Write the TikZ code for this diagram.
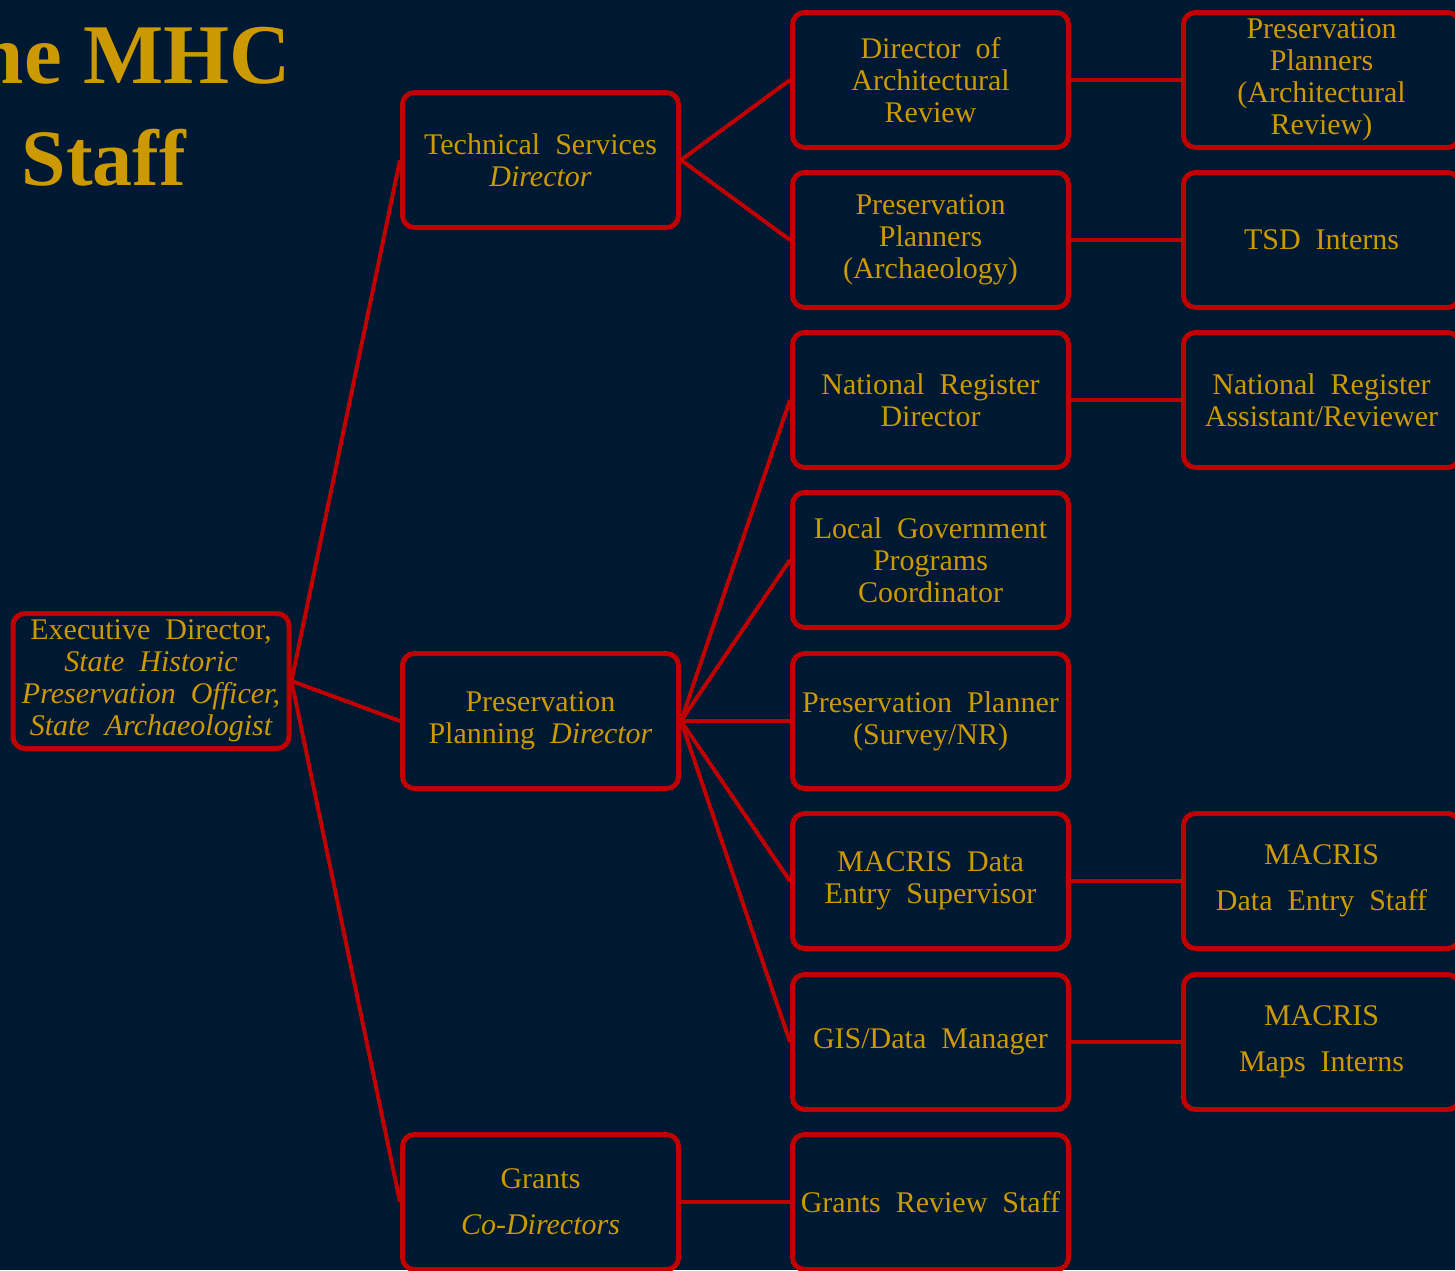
\documentclass[tikz,border=0pt]{standalone}
\usepackage{fontspec}
\setmainfont[WordSpace=2]{Liberation Serif}
\newfontfamily\titlefont{Liberation Serif}
\definecolor{bg}{RGB}{0,25,50}
\definecolor{gold}{RGB}{204,153,0}
\definecolor{boxred}{RGB}{192,0,0}
\begin{document}
\begin{tikzpicture}[x=1pt,y=-1pt,
  box/.style={draw=boxred, line width=5pt, rounded corners=12pt, fill=bg,
    minimum width=276pt, minimum height=135pt, inner sep=0pt, align=center,
    text=gold, font=\fontsize{30}{32}\selectfont},
  link/.style={draw=boxred, line width=4pt},
  ttl/.style={text=gold, inner sep=0pt}]
\fill[bg] (0,0) rectangle (1455,1270);
\useasboundingbox (0,0) rectangle (1455,1270);
\node[ttl, anchor=base east, font=\titlefont\fontsize{85}{100}\selectfont\bfseries] (t1) at (291,83) {The MHC};
\node[ttl, anchor=base, font=\titlefont\fontsize{80}{100}\selectfont\bfseries] (t2) at (104,185) {Staff};
% column 1
\node[box] (exec) at (151,681) {Executive Director,\\\itshape State Historic\\\itshape Preservation Officer,\\\itshape State Archaeologist};
% column 2
\node[box] (ts) at (540.5,160) {Technical Services\\\itshape Director};
\node[box] (pp) at (540.5,721) {Preservation\\Planning \textit{Director}};
\node[box] (gr) at (540.5,1202) {Grants\\[14pt]\itshape Co-Directors};
% column 3
\node[box] (dar) at (930.5,80) {Director of\\Architectural\\Review};
\node[box] (ppa) at (930.5,240) {Preservation\\Planners\\(Archaeology)};
\node[box] (nrd) at (930.5,400) {National Register\\Director};
\node[box] (lgp) at (930.5,560) {Local Government\\Programs\\Coordinator};
\node[box] (pps) at (930.5,721) {Preservation Planner\\(Survey/NR)};
\node[box] (mdes) at (930.5,881) {MACRIS Data\\Entry Supervisor};
\node[box] (gis) at (930.5,1042) {GIS/Data Manager};
\node[box] (grs) at (930.5,1202) {Grants Review Staff};
% column 4
\node[box] (ppar) at (1321.5,80) {Preservation\\Planners\\(Architectural\\Review)};
\node[box] (tsd) at (1321.5,240) {TSD Interns};
\node[box] (nra) at (1321.5,400) {National Register\\Assistant/Reviewer};
\node[box] (mds) at (1321.5,881) {MACRIS\\[14pt]Data Entry Staff};
\node[box] (mmi) at (1321.5,1042) {MACRIS\\[14pt]Maps Interns};
% connectors
\draw[link] (exec.east) -- (ts.west);
\draw[link] (exec.east) -- (pp.west);
\draw[link] (exec.east) -- (gr.west);
\draw[link] (ts.east) -- (dar.west);
\draw[link] (ts.east) -- (ppa.west);
\draw[link] (pp.east) -- (nrd.west);
\draw[link] (pp.east) -- (lgp.west);
\draw[link] (pp.east) -- (pps.west);
\draw[link] (pp.east) -- (mdes.west);
\draw[link] (pp.east) -- (gis.west);
\draw[link] (gr.east) -- (grs.west);
\draw[link] (dar.east) -- (ppar.west);
\draw[link] (ppa.east) -- (tsd.west);
\draw[link] (nrd.east) -- (nra.west);
\draw[link] (mdes.east) -- (mds.west);
\draw[link] (gis.east) -- (mmi.west);
\end{tikzpicture}
\end{document}
